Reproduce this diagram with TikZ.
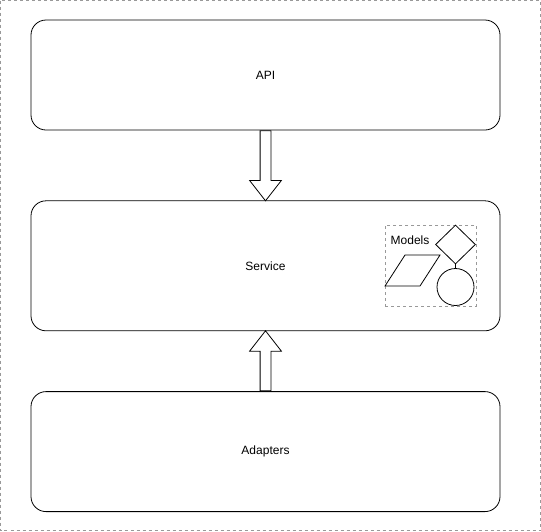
\documentclass[tikz,border=0pt]{standalone}
\usepackage{fontspec}
\setmainfont{Liberation Sans}
\usetikzlibrary{positioning, shapes.geometric, shapes.arrows}
\definecolor{framegray}{HTML}{999999}
\tikzstyle{layerblock} = [rectangle, draw, line width=0.8pt, rounded corners=15pt,
minimum width=469pt]
\tikzstyle{blockarrow} = [single arrow, draw, line width=0.8pt, inner sep=5pt,
single arrow head extend=10.5pt, single arrow tip angle=76]
\tikzstyle{groupbox} = [rectangle, draw=framegray, dashed, line width=0.8pt,
minimum width=91pt, minimum height=81pt]
\tikzstyle{modelshape} = [draw, line width=0.8pt, inner sep=0pt]

\begin{document}
\begin{tikzpicture}[x=1pt, y=-1pt, font=\fontsize{12}{14}\selectfont]
                \useasboundingbox (0,0) rectangle (541,531);
                \draw[framegray, dashed, line width=0.8pt] (0.5,0.5) rectangle (540.5,530.5);
                \node (api) [layerblock, minimum height=110pt] at (265.5,75) {API};
                \node (service) [layerblock, minimum height=130pt, below=70pt of api] {Service};
                \node (adapters) [layerblock, minimum height=120pt, below=60pt of service] {Adapters};
                \node (down) [blockarrow, minimum height=70pt, shape border rotate=270, anchor=tail] at (api.south) {};
                \node (up) [blockarrow, minimum height=60pt, shape border rotate=90, anchor=tail] at (adapters.north) {};
                % models group
                \node (models) [groupbox] at (430.5,265.5) {};
                \node (modelslabel) at (410,240) {Models};
                \node (diam) [modelshape, diamond, minimum width=40pt, minimum height=39pt] at (455.5,244.5) {};
                \node (circ) [modelshape, circle, minimum size=37pt] at (455.5,287) {};
                \draw[line width=0.8pt] (diam.south) -- (circ.north);
                \draw[line width=0.8pt] (385,286) -- (420,286) -- (440,255) -- (405,255) -- cycle;
\end{tikzpicture}
\end{document}
